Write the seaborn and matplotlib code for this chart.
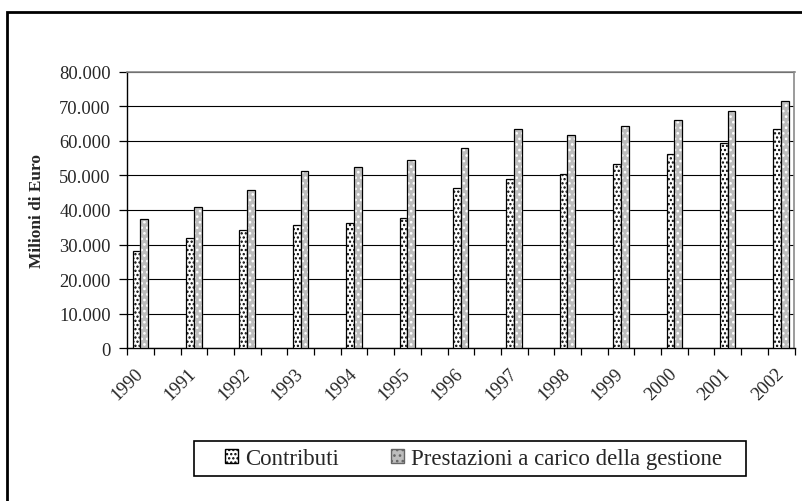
import matplotlib
matplotlib.use("Agg")
import matplotlib.pyplot as plt
import matplotlib.patches as mpatches
import matplotlib.ticker as mticker
import numpy as np
import pandas as pd
import seaborn as sns

years = ["1990", "1991", "1992", "1993", "1994", "1995", "1996",
         "1997", "1998", "1999", "2000", "2001", "2002"]
contributi = [28100, 31800, 34100, 35600, 36200, 37600, 46300,
              48900, 50300, 53200, 56100, 59300, 63400]
prestazioni = [37300, 40900, 45800, 51200, 52400, 54400, 57900,
               63400, 61600, 64200, 66000, 68600, 71500]
series_names = ["Contributi", "Prestazioni a carico della gestione"]
y_ticks = [0, 10000, 20000, 30000, 40000, 50000, 60000, 70000, 80000]

df = pd.DataFrame({
    "Anno": years * 2,
    "Valore": contributi + prestazioni,
    "Serie": [series_names[0]] * len(years) + [series_names[1]] * len(years),
})

sns.set_theme(style="white")
plt.rcParams["font.family"] = ["Liberation Serif", "DejaVu Serif"]
plt.rcParams["hatch.linewidth"] = 1.1

fig = plt.figure(figsize=(8.03, 5.02), dpi=100)
ax = fig.add_axes([127.3 / 803, 1 - 349.3 / 502, (794.5 - 127.3) / 803, (349.3 - 72.5) / 502])

face_colors = {series_names[0]: "#ffffff", series_names[1]: "#bdbdbd"}
sns.barplot(data=df, x="Anno", y="Valore", hue="Serie", order=years,
            hue_order=series_names, palette=face_colors, width=0.29,
            dodge=True, ax=ax, legend=False, saturation=1,
            edgecolor="black", linewidth=0.9, zorder=3)

# hatching: black dots on white bars, white dots on grey bars
for cont, name in zip(ax.containers, series_names):
    for p in cont.patches:
        if name == series_names[0]:
            p.set_hatch("....")
            p.set_edgecolor("black")
        else:
            p.set_hatch("...")
            p.set_edgecolor("white")
            outline = mpatches.Rectangle(p.get_xy(), p.get_width(), p.get_height(),
                                         fill=False, edgecolor="black",
                                         linewidth=0.9, zorder=4)
            ax.add_patch(outline)

ax.set_xlim(-0.247, 12.253)
ax.set_ylim(0, 80000)
ax.set_yticks(y_ticks)
ax.yaxis.set_major_formatter(mticker.FuncFormatter(
    lambda v, pos: "0" if v == 0 else f"{int(v):,}".replace(",", ".")))
ax.yaxis.grid(True, color="black", linewidth=0.8, zorder=0)
ax.xaxis.grid(False)

# category labels
ax.set_xticks(np.arange(len(years)) + 0.0)
ax.set_xticklabels(years, rotation=45, ha="right", va="center",
                   rotation_mode="anchor", fontsize=13.3)
ax.tick_params(axis="x", which="major", length=0, pad=16)
ax.set_xticks(np.arange(-0.247, 12.26, 0.5), minor=True)
ax.tick_params(axis="x", which="minor", length=5, width=0.9, color="black",
               direction="out", bottom=True)
ax.tick_params(axis="y", length=6, width=0.9, color="black", direction="out",
               left=True, labelsize=13.3, pad=6)

ax.set_xlabel("")
ax.set_ylabel("Milioni di Euro", fontsize=12.4, fontweight="bold", labelpad=10)

for side in ["left", "bottom"]:
    ax.spines[side].set_color("black")
    ax.spines[side].set_linewidth(1.0)
for side in ["top", "right"]:
    ax.spines[side].set_color("#8a8a8a")
    ax.spines[side].set_linewidth(1.2)
    ax.spines[side].set_visible(True)

# legend
handles = [mpatches.Patch(facecolor="#ffffff", edgecolor="black", hatch="...."),
           mpatches.Patch(facecolor="#bdbdbd", edgecolor="#666666", hatch="...")]
leg = fig.legend(handles, series_names, loc="center",
                 bbox_to_anchor=(473.5 / 803, 1 - 460 / 502), ncol=2,
                 frameon=False, fontsize=16.5, handlelength=0.55,
                 handleheight=0.55, handletextpad=0.3, columnspacing=2.3)
fig.add_artist(mpatches.Rectangle((194.3 / 803, 1 - 477.3 / 502),
                                  (746.3 - 194.3) / 803, (477.3 - 442.3) / 502,
                                  transform=fig.transFigure, fill=False,
                                  edgecolor="black", linewidth=1.2))

# outer chart frame
fig.add_artist(mpatches.Rectangle((7 / 803, -0.05), 1.2, 1 - 12.7 / 502 + 0.05,
                                  transform=fig.transFigure, fill=False,
                                  edgecolor="black", linewidth=2))

fig.savefig("out.png", dpi=100)
